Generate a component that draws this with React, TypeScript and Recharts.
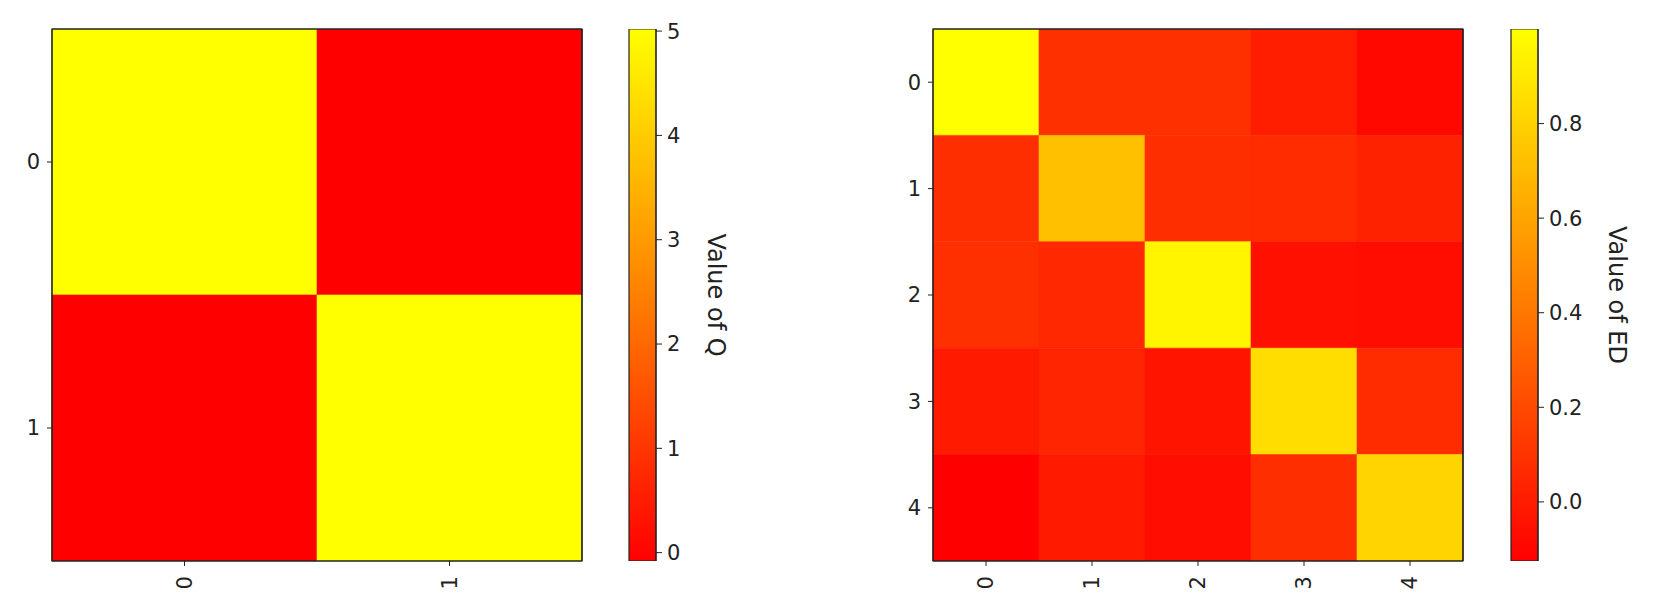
import React from "react";
import { BarChart, Bar, XAxis, YAxis, Cell, ReferenceArea } from "recharts";

// ---------- data ----------
const qRows = ["0", "1"];
const qCols = ["0", "1"];
const qValues = [
  [5.02, -0.08],
  [-0.08, 5.02],
];
const qTicks = [0, 1, 2, 3, 4, 5];

const edRows = ["0", "1", "2", "3", "4"];
const edCols = ["0", "1", "2", "3", "4"];
const edValues = [
  [1.0, 0.087, 0.087, 0.007, -0.09],
  [0.078, 0.722, 0.078, 0.069, 0.025],
  [0.087, 0.051, 0.956, -0.054, -0.063],
  [-0.01, 0.038, -0.037, 0.85, 0.069],
  [-0.125, -0.01, -0.063, 0.078, 0.81],
];
const edTicks = [0, 0.2, 0.4, 0.6, 0.8];

const qLabel = "Value of Q";
const edLabel = "Value of ED";

// ---------- helpers ----------
const INK = "#222222";
const FONT = "'DejaVu Sans', sans-serif";
const TICK_FS = 21;

const autumn = (v: number, min: number, max: number) => {
  const t = Math.max(0, Math.min(1, (v - min) / (max - min)));
  return `rgb(255, ${Math.round(255 * t)}, 0)`;
};

const flat = (m: number[][]) => m.reduce((a, r) => a.concat(r), [] as number[]);

const buildTable = (rows: string[], cols: string[]) =>
  cols.map((c) => {
    const o: any = { col: c };
    rows.forEach((_, i) => {
      o[`r${i}`] = 1;
    });
    return o;
  });

const RotTick = (props: any) => {
  const { x, y, payload } = props;
  return (
    <text
      x={x}
      y={y}
      transform={`rotate(-90 ${x} ${y})`}
      textAnchor="end"
      dominantBaseline="central"
      fontSize={TICK_FS}
      fill={INK}
      fontFamily={FONT}
    >
      {payload.value}
    </text>
  );
};

const makeCbLabel = (text: string, dx: number) => (props: any) => {
  const vb = props.viewBox || {};
  const x = (vb.x ?? 0) + dx;
  const y = (vb.y ?? 0) + (vb.height ?? 0) / 2;
  return (
    <text
      x={x}
      y={y}
      transform={`rotate(90 ${x} ${y})`}
      textAnchor="middle"
      dominantBaseline="central"
      fontSize={24}
      fill={INK}
      fontFamily={FONT}
    >
      {text}
    </text>
  );
};

type HeatProps = {
  rows: string[];
  cols: string[];
  values: number[][];
  left: number;
};

const Heatmap = ({ rows, cols, values, left }: HeatProps) => {
  const data = buildTable(rows, cols);
  const all = flat(values);
  const vmin = Math.min(...all);
  const vmax = Math.max(...all);
  const n = rows.length;
  return (
    <div style={{ position: "absolute", left, top: 0 }}>
      <BarChart
        width={600}
        height={610}
        data={data}
        barCategoryGap={0}
        barGap={0}
        margin={{ top: 28, right: 17, bottom: 9, left: 12 }}
      >
        <XAxis
          dataKey="col"
          type="category"
          height={40}
          interval={0}
          tick={<RotTick />}
          tickSize={5}
          tickMargin={10}
          stroke={INK}
          tickLine={{ stroke: INK }}
          axisLine={{ stroke: INK }}
        />
        <XAxis
          xAxisId="top"
          dataKey="col"
          type="category"
          orientation="top"
          height={1}
          tick={false}
          tickLine={false}
          axisLine={{ stroke: INK, strokeWidth: 1.2 }}
        />
        <YAxis
          type="number"
          domain={[0, n]}
          reversed
          allowDataOverflow
          width={40}
          ticks={rows.map((_, i) => i + 0.5)}
          interval={0}
          tickFormatter={(v: number) => rows[Math.round(v - 0.5)]}
          tick={{ fontSize: TICK_FS, fill: INK, fontFamily: FONT }}
          tickSize={5}
          tickMargin={7}
          tickLine={{ stroke: INK }}
          axisLine={{ stroke: INK }}
        />
        <YAxis
          yAxisId="right"
          type="number"
          orientation="right"
          domain={[0, n]}
          width={1}
          tick={false}
          tickLine={false}
          axisLine={{ stroke: INK, strokeWidth: 1.2 }}
        />
        {rows.map((_, i) => (
          <Bar key={i} dataKey={`r${i}`} stackId="s" isAnimationActive={false}>
            {cols.map((_, j) => {
              const c = autumn(values[i][j], vmin, vmax);
              return <Cell key={j} fill={c} stroke={c} strokeWidth={0.6} />;
            })}
          </Bar>
        ))}
        <ReferenceArea
          x1={cols[0]}
          x2={cols[cols.length - 1]}
          y1={0}
          y2={n}
          fill="none"
          fillOpacity={0}
          stroke={INK}
          strokeWidth={1.2}
          ifOverflow="visible"
          {...({ zIndex: 2000 } as any)}
        />
      </BarChart>
    </div>
  );
};

type CbProps = {
  values: number[][];
  ticks: number[];
  fmt: (v: number) => string;
  left: number;
  label: string;
  labelDx: number;
  id: string;
};

const Colorbar = ({ values, ticks, fmt, left, label, labelDx, id }: CbProps) => {
  const all = flat(values);
  const vmin = Math.min(...all);
  const vmax = Math.max(...all);
  const data = [{ name: id, range: [vmin, vmax] }];
  return (
    <div style={{ position: "absolute", left, top: 0 }}>
      <BarChart
        width={170}
        height={610}
        data={data}
        barCategoryGap={0}
        margin={{ top: 29, right: 33, bottom: 49, left: 30 }}
      >
        <defs>
          <linearGradient id={`grad-${id}`} x1="0" y1="1" x2="0" y2="0">
            <stop offset="0%" stopColor="rgb(255,0,0)" />
            <stop offset="100%" stopColor="rgb(255,255,0)" />
          </linearGradient>
        </defs>
        <XAxis dataKey="name" hide />
        <YAxis
          type="number"
          orientation="right"
          domain={[vmin, vmax]}
          allowDataOverflow
          ticks={ticks}
          interval={0}
          width={80}
          tickFormatter={fmt}
          tick={{ fontSize: TICK_FS, fill: INK, fontFamily: FONT }}
          tickSize={6}
          tickMargin={5}
          tickLine={{ stroke: INK }}
          axisLine={{ stroke: INK }}
          label={{ content: makeCbLabel(label, labelDx) } as any}
        />
        <Bar
          dataKey="range"
          fill={`url(#grad-${id})`}
          stroke={INK}
          strokeWidth={1.2}
          isAnimationActive={false}
        />
      </BarChart>
    </div>
  );
};

export default function App() {
  return (
    <div
      style={{
        position: "absolute",
        left: 0,
        top: 0,
        width: 1660,
        height: 610,
        background: "#ffffff",
        fontFamily: FONT,
        overflow: "hidden",
      }}
    >
      <Heatmap rows={qRows} cols={qCols} values={qValues} left={0} />
      <Colorbar
        values={qValues}
        ticks={qTicks}
        fmt={(v) => String(v)}
        left={599}
        label={qLabel}
        labelDx={60}
        id="q"
      />
      <Heatmap rows={edRows} cols={edCols} values={edValues} left={881} />
      <Colorbar
        values={edValues}
        ticks={edTicks}
        fmt={(v) => v.toFixed(1)}
        left={1481}
        label={edLabel}
        labelDx={79}
        id="ed"
      />
    </div>
  );
}
